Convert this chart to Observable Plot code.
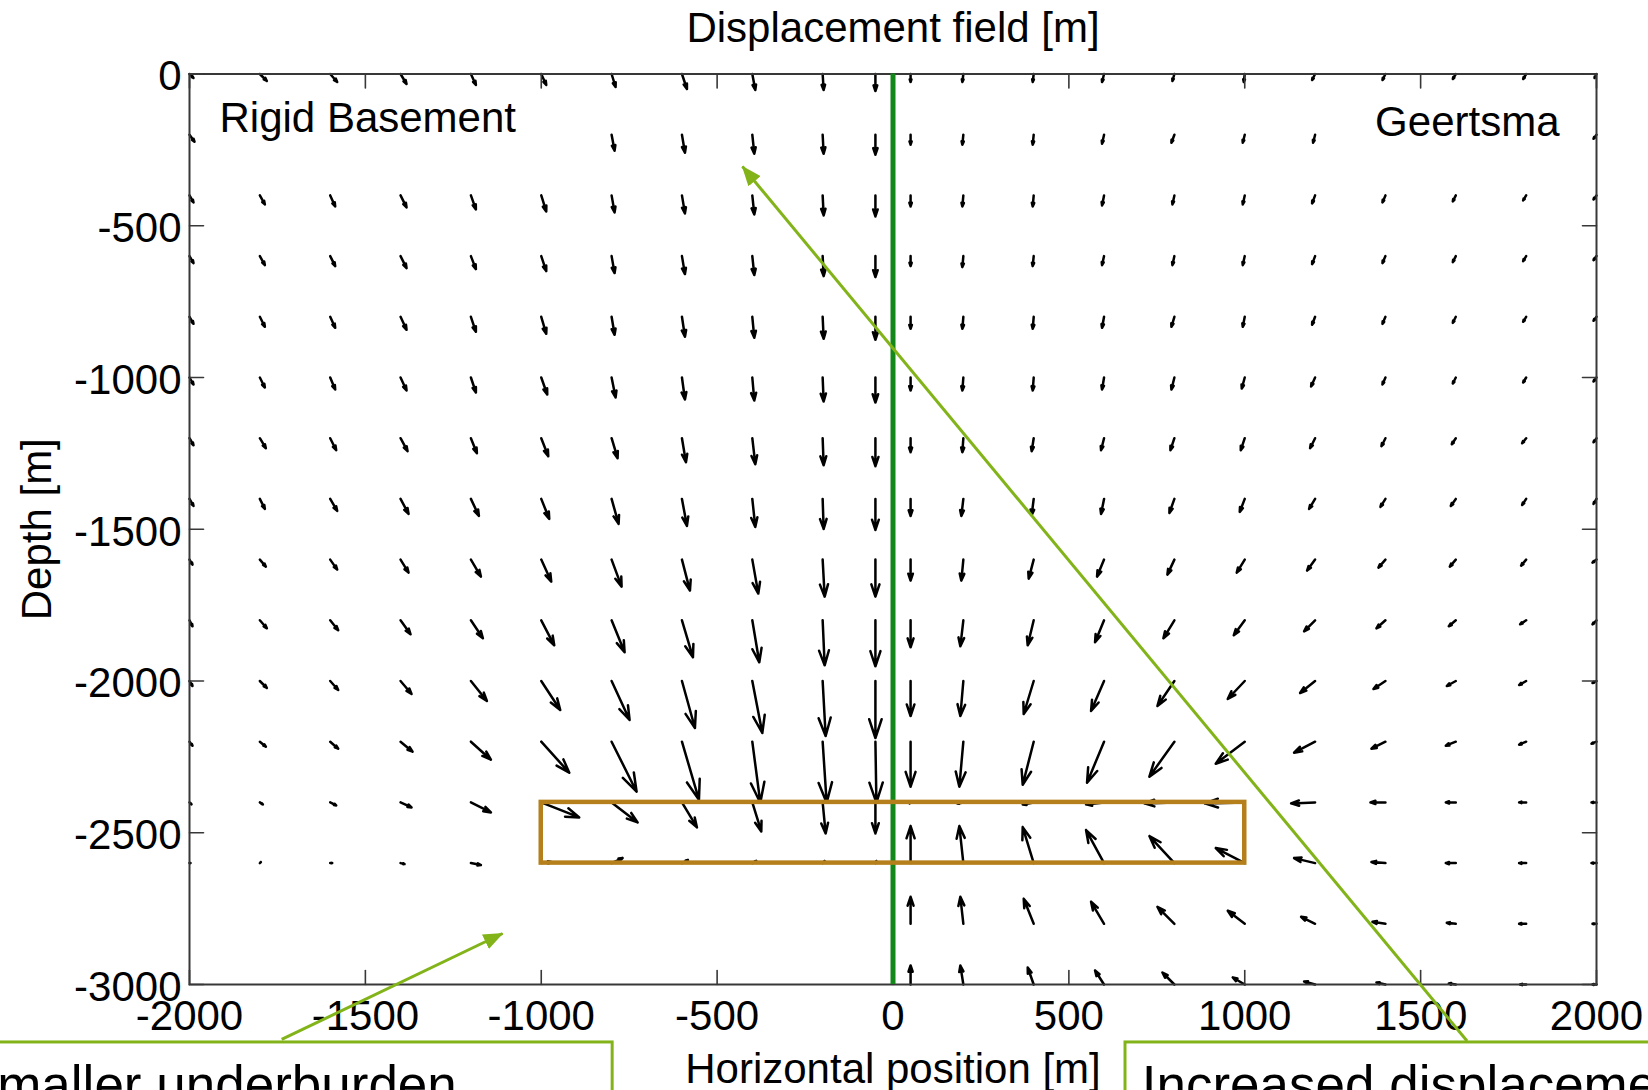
<!DOCTYPE html>
<html>
<head>
<meta charset="utf-8">
<script src="https://cdn.jsdelivr.net/npm/d3@7"></script>
<script src="https://cdn.jsdelivr.net/npm/@observablehq/plot@0.6"></script>
<style>
  html, body { margin: 0; padding: 0; background: #ffffff; overflow: hidden; }
  #chart svg { display: block; }
</style>
</head>
<body>
<div id="chart"></div>
<script>
// ---------------- data ----------------
const xTicks = [-2000, -1500, -1000, -500, 0, 500, 1000, 1500, 2000];
const yTicks = [0, -500, -1000, -1500, -2000, -2500, -3000];
const depthRows = [0, -200, -400, -600, -800, -1000, -1200, -1400, -1600, -1800, -2000, -2200, -2400, -2600, -2800, -3000];

// Rigid basement model (left half): horizontal component and downward component (relative units)
const rigidX = [-2000, -1800, -1600, -1400, -1200, -1000, -800, -600, -400, -200, -50];
const rigidDx = [
  [4, 7, 7, 6, 5, 5, 4, 5, 3, 1, 0],
  [5, null, null, null, null, null, 3, 3, 2, 1, 0],
  [4, 5, 5, 6, 5, 5, 3, 3, 2, 1, 0],
  [4, 5, 5, 6, 5, 5, 3, 3, 2, 1, 0],
  [4, 5, 5, 6, 5, 5, 3, 3, 2, 1, 0],
  [4, 5, 5, 6, 5, 6, 4, 3, 2, 1, 0],
  [4, 6, 6, 7, 6, 7, 6, 4, 3, 1, 0],
  [4, 5, 7, 8, 8, 8, 7, 5, 3, 1, 0],
  [3, 6, 7, 8, 10, 10, 10, 8, 6, 2, 0],
  [3, 7, 8, 10, 12, 13, 13, 11, 7, 2, 0],
  [3, 7, 8, 11, 16, 19, 18, 13, 10, 3, 0],
  [3, 6, 8, 12, 20, 28, 25, 17, 8, 4, 1],
  [2, 3, 6, 11, 20, 38, 26, 15, 9, 3, 0],
  [1, 1, 2, 4, 10, 10, 11, 6, 4, 2, 1]
];
const rigidDown = [
  [4, 7, 8, 10, 11, 11, 13, 15, 16, 16, 17],
  [7, null, null, null, null, null, 16, 18, 19, 19, 20],
  [7, 9, 11, 12, 14, 16, 17, 18, 19, 20, 21],
  [7, 9, 10, 12, 13, 15, 17, 18, 19, 20, 21],
  [7, 10, 11, 13, 15, 17, 18, 20, 21, 22, 23],
  [7, 10, 12, 13, 15, 17, 20, 22, 23, 24, 25],
  [7, 10, 12, 13, 15, 18, 20, 24, 26, 27, 28],
  [7, 10, 12, 15, 17, 20, 25, 27, 28, 30, 31],
  [5, 7, 10, 13, 17, 22, 27, 31, 34, 37, 37],
  [6, 8, 10, 14, 18, 25, 32, 37, 42, 45, 46],
  [5, 7, 9, 13, 20, 29, 39, 47, 52, 55, 57],
  [4, 5, 7, 10, 18, 31, 50, 58, 61, 61, 61],
  [2, 2, 3, 5, 10, 15, 20, 25, 29, 31, 31],
  [0, -1, 0, 1, 2, -1, -5, -3, -2, -2, -2]
];

// Geertsma model (right half)
const geertsmaX = [50, 200, 400, 600, 800, 1000, 1200, 1400, 1600, 1800, 2000];
const geertsmaDx = [
  [0, -1, -1, -2, -2, -1, -3, -3, -3, -3, -2],
  [0, -1, -1, -2, -3, -2, -2, null, null, null, -3],
  [0, -1, -1, -2, -2, -2, -3, -3, -3, -3, -3],
  [0, -1, -1, -2, -2, -2, -3, -3, -3, -3, -3],
  [0, -1, -1, -2, -3, -2, -3, -3, -3, -3, -3],
  [0, -1, -1, -2, -3, -3, -4, -3, -3, -3, -3],
  [0, -1, -2, -3, -4, -4, -5, -4, -4, -4, -3],
  [0, -2, -2, -3, -5, -5, -6, -5, -5, -4, -3],
  [0, -2, -5, -7, -7, -8, -8, -7, -6, -5, -4],
  [0, -3, -6, -9, -11, -11, -11, -9, -7, -6, -4],
  [0, -3, -10, -13, -17, -17, -15, -12, -9, -7, -4],
  [0, -4, -11, -17, -25, -29, -21, -14, -10, -7, -5],
  [-1, -6, -11, -18, -30, -40, -24, -15, -10, -7, -5],
  [0, -4, -11, -18, -25, -29, -21, -14, -10, -7, -5],
  [0, -3, -10, -13, -17, -17, -14, -13, -9, -7, -4],
  [0, -3, -6, -9, -12, -12, -11, -9, -7, -6, -4]
];
const geertsmaDown = [
  [8, 8, 8, 8, 7, 8, 6, 6, 5, 5, 4],
  [10, 10, 10, 9, 8, 8, 8, null, null, null, 4],
  [11, 11, 11, 10, 9, 9, 8, 7, 6, 5, 4],
  [10, 11, 10, 9, 9, 9, 8, 7, 6, 5, 4],
  [12, 12, 12, 11, 10, 10, 8, 7, 6, 5, 4],
  [13, 13, 13, 12, 12, 11, 9, 7, 6, 5, 4],
  [14, 14, 13, 12, 12, 12, 10, 8, 6, 5, 4],
  [17, 17, 16, 15, 14, 13, 10, 8, 7, 6, 5],
  [21, 21, 19, 17, 15, 13, 11, 8, 7, 6, 3],
  [27, 26, 25, 22, 18, 15, 11, 8, 6, 4, 4],
  [35, 35, 33, 30, 25, 18, 12, 8, 5, 4, 2],
  [45, 45, 43, 41, 35, 22, 11, 7, 4, 3, 2],
  [1, 1, 2, 2, 1, 1, 1, 0, 0, 0, 0],
  [-37, -37, -36, -33, -27, -15, -5, -1, 0, 0, 0],
  [-27, -27, -25, -22, -17, -13, -7, -2, -1, 0, 0],
  [-19, -19, -17, -14, -12, -7, -3, -2, -1, 0, 0]
];

// Reservoir and model interface
const reservoirX = [-1000, 1000];
const reservoirDepth = [-2600, -2400];
const interfaceX = [0];

// Labels
const titleText = "Displacement field [m]";
const xLabel = "Horizontal position [m]";
const yLabel = "Depth [m]";
const panelLabels = ["Rigid Basement", "Geertsma"];

// Callouts (cut off by the picture edge in the original)
const calloutText = ["Smaller underburden", "Increased displacement"];
const calloutTextX = [-1240, 707];
const calloutTextY = [-3334, -3334];
const calloutBoxX1 = [-2650, 661];
const calloutBoxX2 = [-797, 2450];
const calloutBoxTop = [-3191, -3191];
const calloutBoxBottom = [-3700, -3700];
const calloutLineX1 = [-1738, 1632];
const calloutLineY1 = [-3181, -3186];
const calloutLineX2 = [-1110, -428];
const calloutLineY2 = [-2832, -305];

// ---------------- build tables ----------------
function field(xs, dxRows, downRows) {
  const out = [];
  dxRows.forEach((row, i) => row.forEach((dx, j) => {
    const down = downRows[i][j];
    if (dx == null || down == null) return;
    out.push({x: xs[j], depth: depthRows[i], dx, down});
  }));
  return out;
}
const vectors = field(rigidX, rigidDx, rigidDown).concat(field(geertsmaX, geertsmaDx, geertsmaDown));
const reservoir = [{x1: reservoirX[0], x2: reservoirX[1], y1: reservoirDepth[0], y2: reservoirDepth[1]}];
const boxes = calloutText.map((t, i) => ({x1: calloutBoxX1[i], x2: calloutBoxX2[i], y1: calloutBoxBottom[i], y2: calloutBoxTop[i]}));
const texts = calloutText.map((t, i) => ({text: t, x: calloutTextX[i], y: calloutTextY[i], anchor: i === 0 ? "end" : "start"}));
const lines = calloutLineX1.map((x1, i) => ({x1, y1: calloutLineY1[i], x2: calloutLineX2[i], y2: calloutLineY2[i]}));

// MATLAB quiver-like arrow
const quiverShape = {
  draw(ctx, l) {
    const a = 0.33 * l, b = 0.11 * l;
    ctx.moveTo(0, 0);
    ctx.lineTo(0, -l);
    ctx.moveTo(-b, a - l);
    ctx.lineTo(0, -l);
    ctx.lineTo(b, a - l);
  }
};
const tickShape = { draw(ctx, l) { ctx.moveTo(0, 0); ctx.lineTo(0, -l); } };

const frameColor = "#383838";
const calloutColor = "#82b41a";
const font = "'Liberation Sans', Arial, Helvetica, sans-serif";

const svg = Plot.plot({
  width: 1648,
  height: 1090,
  marginLeft: 189,
  marginRight: 52,
  marginTop: 73.5,
  marginBottom: 106,
  x: {domain: [-2000, 2000]},
  y: {domain: [-3000, 0]},
  length: {domain: [0, 100], range: [0, 100]},
  style: {fontFamily: font, background: "#ffffff", color: "#000000", overflow: "visible"},
  marks: [
    Plot.vector(vectors, {
      x: "x", y: "depth",
      length: d => Math.hypot(d.dx, d.down),
      rotate: d => Math.atan2(d.dx, -d.down) * 180 / Math.PI,
      anchor: "start", shape: quiverShape,
      stroke: "#000000", strokeWidth: 2.5, strokeLinecap: "round", strokeLinejoin: "round"
    }),
    Plot.frame({stroke: frameColor, strokeWidth: 2}),
    Plot.vector(xTicks, {x: d => d, frameAnchor: "bottom", length: 14, rotate: 0, anchor: "start", shape: tickShape, stroke: frameColor, strokeWidth: 1.6}),
    Plot.vector(xTicks, {x: d => d, frameAnchor: "top", length: 14, rotate: 180, anchor: "start", shape: tickShape, stroke: frameColor, strokeWidth: 1.6}),
    Plot.vector(yTicks, {y: d => d, frameAnchor: "left", length: 14, rotate: 90, anchor: "start", shape: tickShape, stroke: frameColor, strokeWidth: 1.6}),
    Plot.vector(yTicks, {y: d => d, frameAnchor: "right", length: 14, rotate: -90, anchor: "start", shape: tickShape, stroke: frameColor, strokeWidth: 1.6}),
    Plot.axisX({ticks: xTicks, anchor: "bottom", tickSize: 0, tickPadding: 16, fontSize: 42, tickFormat: d => String(d), label: null}),
    Plot.axisY({ticks: yTicks, anchor: "left", tickSize: 0, tickPadding: 8, dy: 3, fontSize: 42, tickFormat: d => String(d), label: null}),
    Plot.ruleX(interfaceX, {stroke: "#12881a", strokeWidth: 5}),
    Plot.rect(reservoir, {x1: "x1", x2: "x2", y1: "y1", y2: "y2", fill: "none", stroke: "#b5801c", strokeWidth: 4.5}),
    Plot.text([titleText], {text: d => d, frameAnchor: "top", dy: -45, textAnchor: "middle", lineAnchor: "middle", fontSize: 42}),
    Plot.text([xLabel], {text: d => d, frameAnchor: "bottom", dy: 85, textAnchor: "middle", lineAnchor: "middle", fontSize: 42}),
    Plot.text([yLabel], {text: d => d, frameAnchor: "left", dx: -152, rotate: -90, textAnchor: "middle", lineAnchor: "middle", fontSize: 42}),
    Plot.text([panelLabels[0]], {text: d => d, frameAnchor: "top-left", dx: 30, dy: 45, textAnchor: "start", lineAnchor: "middle", fontSize: 42}),
    Plot.text([panelLabels[1]], {text: d => d, frameAnchor: "top-right", dx: -37, dy: 49, textAnchor: "end", lineAnchor: "middle", fontSize: 42}),
    Plot.rect(boxes, {x1: "x1", x2: "x2", y1: "y1", y2: "y2", fill: "#ffffff", stroke: calloutColor, strokeWidth: 3}),
    Plot.text(texts.filter(d => d.anchor === "end"), {x: "x", y: "y", text: "text", textAnchor: "end", lineAnchor: "middle", fontSize: 53}),
    Plot.text(texts.filter(d => d.anchor === "start"), {x: "x", y: "y", text: "text", textAnchor: "start", lineAnchor: "middle", fontSize: 53}),
    Plot.link(lines, {x1: "x1", y1: "y1", x2: "x2", y2: "y2", stroke: calloutColor, strokeWidth: 3})
  ]
});

// filled arrowheads on the callout lines
const root = d3.select(svg);
const defs = root.insert("defs", ":first-child");
defs.append("marker")
  .attr("id", "calloutHead")
  .attr("viewBox", "0 0 20 16")
  .attr("refX", 19).attr("refY", 8)
  .attr("markerWidth", 20).attr("markerHeight", 16)
  .attr("markerUnits", "userSpaceOnUse")
  .attr("orient", "auto")
  .append("path").attr("d", "M0,0L20,8L0,16Z").attr("fill", calloutColor);
root.selectAll('g[aria-label="link"] path').attr("marker-end", "url(#calloutHead)");

document.getElementById("chart").appendChild(svg);
</script>
</body>
</html>
